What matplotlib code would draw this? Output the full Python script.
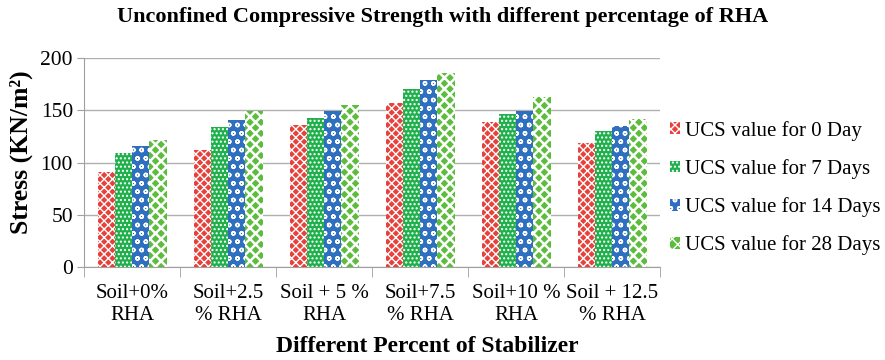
import numpy as np
import matplotlib
matplotlib.use("Agg")
import matplotlib.pyplot as plt

plt.rcParams["font.family"] = ["Liberation Serif", "DejaVu Serif"]

# ── data ────────────────────────────────────────────────────────────────────
CATEGORIES = ["Soil+0%\nRHA", "Soil+2.5\n% RHA", "Soil + 5 %\nRHA",
              "Soil+7.5\n% RHA", "Soil+10 %\nRHA", "Soil + 12.5\n% RHA"]
SERIES = ["UCS value for 0 Day", "UCS value for 7 Days",
          "UCS value for 14 Days", "UCS value for 28 Days"]
DAY0 = [91, 112, 136, 157, 139, 119]
DAY7 = [109, 134, 143, 170, 146, 130]
DAY14 = [116, 141, 149, 179, 149, 135]
DAY28 = [122, 149, 155, 186, 163, 142]

COLOURS = ["#e8413c", "#1fb04c", "#2f6fc0", "#5cbc3c"]
HATCHES = ["xxxx", "....", "oo", "xxx"]
HATCH_LW = [1.0, 1.0, 1.0, 1.8]

fig = plt.figure(figsize=(8.85, 3.6), dpi=100)
ax = fig.add_axes([0.095, 0.258, 0.651, 0.581])

x = np.arange(len(CATEGORIES))
w = 0.18
for i, (vals, name) in enumerate(zip([DAY0, DAY7, DAY14, DAY28], SERIES)):
    with plt.rc_context({"hatch.linewidth": HATCH_LW[i]}):
        ax.bar(x + (i - 1.5) * w, vals, w, color=COLOURS[i], edgecolor="white",
               hatch=HATCHES[i], linewidth=0, label=name, zorder=3)

ax.set_ylim(0, 200)
ax.set_xlim(-0.5, len(CATEGORIES) - 0.5)
ax.set_yticks([0, 50, 100, 150, 200])
ax.yaxis.grid(True, color="#b0b0b0", lw=1.0, zorder=0)

ax.set_xticks(x)
ax.set_xticklabels(CATEGORIES, fontsize=15, linespacing=1.2)
ax.set_xticks(np.arange(len(CATEGORIES) + 1) - 0.5, minor=True)
ax.tick_params(axis="x", which="major", length=0, pad=12)
ax.tick_params(axis="x", which="minor", length=7, color="#a0a0a0")
ax.tick_params(axis="y", length=5, color="#a0a0a0", labelsize=15.5, pad=3)

for side in ["top", "right"]:
    ax.spines[side].set_visible(False)
for side in ["left", "bottom"]:
    ax.spines[side].set_color("#a0a0a0")

ax.set_ylabel("Stress (KN/m²)", fontsize=18.5, fontweight="bold")
ax.yaxis.set_label_coords(-0.088, 0.55)
ax.set_xlabel("Different Percent of Stabilizer", fontsize=17, fontweight="bold")
ax.xaxis.set_label_coords(0.595, -0.33)
fig.text(0.5, 0.953, "Unconfined Compressive Strength with different percentage of RHA",
         ha="center", va="center", fontsize=16, fontweight="bold")

ax.legend(loc="center left", bbox_to_anchor=(0.995, 0.378), frameon=False,
          fontsize=15, handlelength=0.5, handleheight=0.5,
          handletextpad=0.25, labelspacing=0.88, borderaxespad=0.2)

fig.savefig("out.png", dpi=100)
